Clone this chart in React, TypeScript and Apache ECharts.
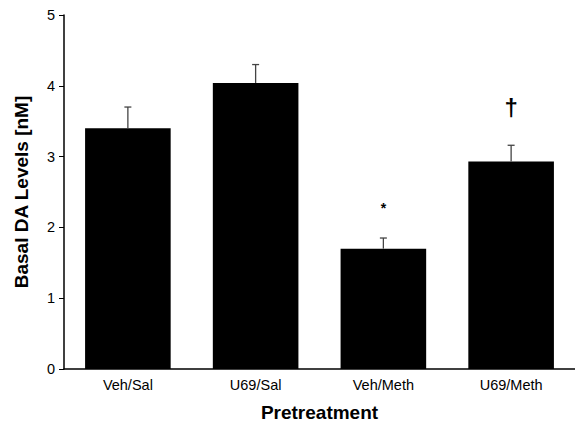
import React, { useEffect, useRef } from "react";
import * as echarts from "echarts";

const categories = ["Veh/Sal", "U69/Sal", "Veh/Meth", "U69/Meth"];
const means = [3.4, 4.04, 1.7, 2.93];
const errors = [0.3, 0.26, 0.15, 0.23];
const markTexts = ["", "", "*", "†"];
const markLevels = [0, 0, 2.27, 3.7];
const yMin = 0;
const yMax = 5;
const yInterval = 1;

export default function App() {
  const ref = useRef<HTMLDivElement>(null);
  useEffect(() => {
    if (!ref.current) return;
    const chart = echarts.init(ref.current, undefined, { renderer: "svg" });
    const font = "'Liberation Sans', Arial, Helvetica, sans-serif";
    chart.setOption({
      animation: false,
      backgroundColor: "#ffffff",
      grid: { left: 64, right: 0, top: 15, bottom: 58 },
      xAxis: {
        type: "category",
        data: categories,
        name: "Pretreatment",
        nameLocation: "middle",
        nameGap: 34,
        nameTextStyle: { fontFamily: font, fontSize: 19, fontWeight: "bold", color: "#000" },
        axisLine: { lineStyle: { color: "#000", width: 1.5 } },
        axisTick: { alignWithLabel: true, length: 5, lineStyle: { color: "#000", width: 2 } },
        axisLabel: { fontFamily: font, fontSize: 14.5, color: "#000", margin: 8 },
      },
      yAxis: {
        type: "value",
        min: yMin,
        max: yMax,
        interval: yInterval,
        name: "Basal DA Levels [nM]",
        nameLocation: "middle",
        nameGap: 33,
        nameTextStyle: { fontFamily: font, fontSize: 19, fontWeight: "bold", color: "#000" },
        axisLine: { show: true, lineStyle: { color: "#000", width: 1.5 } },
        axisTick: { show: true, length: 5, lineStyle: { color: "#000", width: 1 } },
        axisLabel: { fontFamily: font, fontSize: 14.5, color: "#000", margin: 9 },
        splitLine: { show: false },
      },
      series: [
        {
          type: "bar",
          data: means,
          barWidth: "67%",
          itemStyle: { color: "#000" },
          z: 2,
        },
        {
          type: "custom",
          data: categories.map((_, i) => [i, means[i], errors[i]]),
          z: 3,
          renderItem: (params: any, api: any) => {
            const x = api.value(0);
            const m = api.value(1);
            const e = api.value(2);
            const top = api.coord([x, m + e]);
            const base = api.coord([x, m]);
            const style = { stroke: "#444", lineWidth: 1.3 };
            return {
              type: "group",
              children: [
                { type: "line", shape: { x1: top[0], y1: base[1], x2: top[0], y2: top[1] }, style },
                { type: "line", shape: { x1: top[0] - 3.5, y1: top[1], x2: top[0] + 3.5, y2: top[1] }, style },
              ],
            };
          },
        },
        {
          type: "custom",
          data: categories.map((_, i) => [i, markLevels[i]]),
          z: 4,
          renderItem: (params: any, api: any) => {
            const i = params.dataIndex;
            const t = markTexts[i];
            if (!t) return null;
            const p = api.coord([api.value(0), api.value(1)]);
            const isStar = t === "*";
            return {
              type: "text",
              x: p[0],
              y: p[1],
              style: {
                text: t,
                fill: "#000",
                font: `bold ${isStar ? 14 : 24}px ${font}`,
                textAlign: "center",
                textVerticalAlign: "middle",
              },
            };
          },
        },
      ],
    });
    return () => chart.dispose();
  }, []);
  return (
    <div
      ref={ref}
      style={{ position: "fixed", left: 0, top: 0, width: 575, height: 427, background: "#fff" }}
    />
  );
}
